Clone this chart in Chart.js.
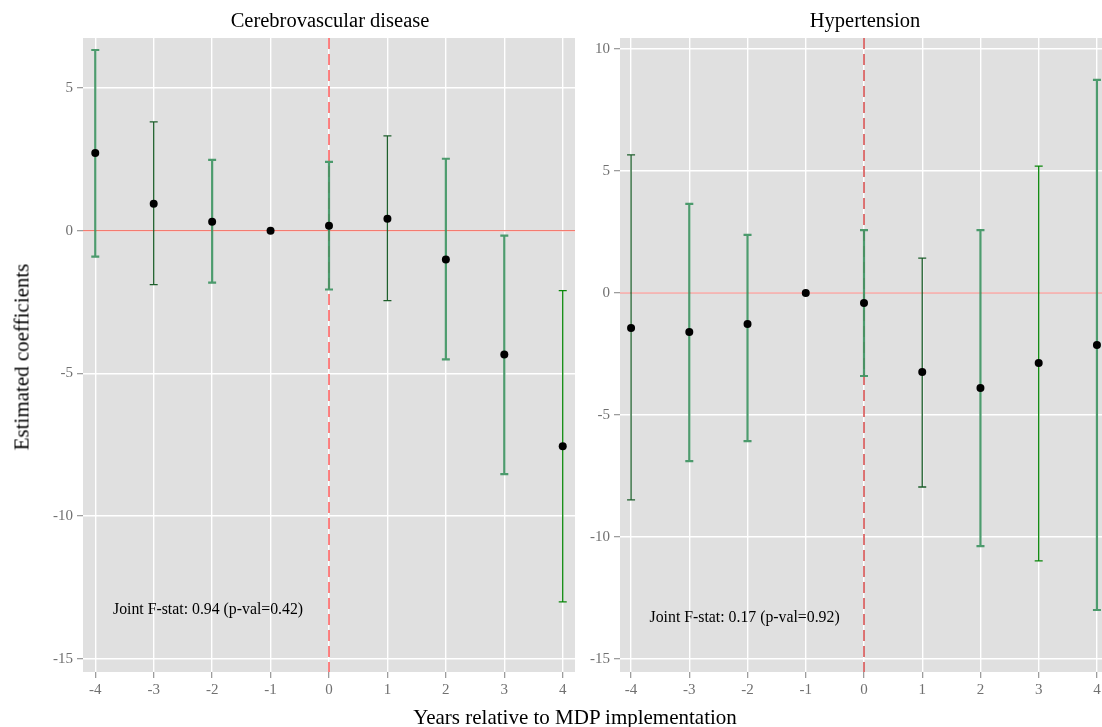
<!DOCTYPE html>
<html>
<head>
<meta charset="utf-8">
<script src="https://cdn.jsdelivr.net/npm/chart.js@4.4.0/dist/chart.umd.min.js"></script>
<style>
    body { margin: 0; width: 1102px; height: 727px; overflow: hidden; background: #fff; position: relative; font-family: "Liberation Serif", serif; }
    canvas { position: absolute; top: 0; }
    .lbl { position: absolute; white-space: nowrap; color: #000; line-height: 1; }
</style>
</head>
<body>
<canvas id="cvdChart" width="580" height="727" style="left:0"></canvas>
<canvas id="htnChart" width="532" height="727" style="left:580px"></canvas>

<div class="lbl" style="left:330px; top:10px; font-size:20.5px; transform:translateX(-50%)">Cerebrovascular disease</div>
<div class="lbl" style="left:865px; top:10px; font-size:20.5px; transform:translateX(-50%)">Hypertension</div>
<div class="lbl" style="left:22px; top:357px; font-size:21px; transform:translate(-50%,-50%) rotate(-90deg)">Estimated coefficients</div>
<div class="lbl" style="left:575px; top:707px; font-size:21px; transform:translateX(-50%)">Years relative to MDP implementation</div>

<script>
// years relative to implementation
const years = [-4, -3, -2, -1, 0, 1, 2, 3, 4];
const xTickLabels = ['-4', '-3', '-2', '-1', '0', '1', '2', '3', '4'];

// Cerebrovascular disease
const cvdCoef = [2.72, 0.94, 0.31, 0, 0.17, 0.42, -1.01, -4.34, -7.55];
const cvdLow  = [-0.91, -1.89, -1.82, 0, -2.06, -2.45, -4.51, -8.53, -13.0];
const cvdHigh = [6.33, 3.81, 2.48, 0, 2.41, 3.32, 2.52, -0.17, -2.10];
const cvdYTicks = [-15, -10, -5, 0, 5];

// Hypertension
const htnCoef = [-1.43, -1.60, -1.27, 0, -0.41, -3.24, -3.89, -2.87, -2.13];
const htnLow  = [-8.48, -6.89, -6.07, 0, -3.40, -7.95, -10.37, -10.98, -12.99];
const htnHigh = [5.66, 3.65, 2.38, 0, 2.58, 1.43, 2.58, 5.20, 8.73];
const htnYTicks = [-15, -10, -5, 0, 5, 10];

// joint test annotations
const noteText = ['Joint F-stat: 0.94 (p-val=0.42)', 'Joint F-stat: 0.17 (p-val=0.92)'];
const noteX = [-2.07, -2.05];
const noteY = [-13.27, -13.32];

// bar looks
const BAR = {
    light:  { color: 'rgba(62,148,98,0.92)', width: 2.2 },
    dark:   { color: '#1e5f2c', width: 1.3 },
    bright: { color: '#0a870a', width: 1.3 }
};
const cvdBarStyle = ['light', 'dark', 'light', null, 'light', 'dark', 'light', 'light', 'bright'];
const htnBarStyle = ['dark', 'light', 'light', null, 'light', 'dark', 'light', 'bright', 'light'];

const SERIF = 'Liberation Serif';

const panelPlugin = {
    id: 'panel',
    beforeDraw(chart) {
        const { ctx, chartArea: a } = chart;
        ctx.save();
        ctx.fillStyle = '#e0e0e0';
        ctx.fillRect(a.left, a.top, a.right - a.left, a.bottom - a.top);
        ctx.restore();
    },
    beforeDatasetsDraw(chart) {
        const { ctx, chartArea: a, scales: { x, y } } = chart;
        const o = chart.options.plugins.panel;
        ctx.save();
        ctx.beginPath();
        ctx.rect(a.left, a.top, a.right - a.left, a.bottom - a.top);
        ctx.clip();

        // zero line
        ctx.strokeStyle = o.hColor;
        ctx.lineWidth = o.hWidth;
        ctx.beginPath();
        ctx.moveTo(a.left, y.getPixelForValue(0));
        ctx.lineTo(a.right, y.getPixelForValue(0));
        ctx.stroke();

        // implementation year
        ctx.strokeStyle = o.vColor;
        ctx.lineWidth = 1.4;
        ctx.setLineDash([11, 5]);
        ctx.beginPath();
        ctx.moveTo(x.getPixelForValue(0), a.top);
        ctx.lineTo(x.getPixelForValue(0), a.bottom);
        ctx.stroke();
        ctx.setLineDash([]);

        // error bars
        years.forEach((yr, i) => {
            const st = BAR[o.styles[i]];
            if (!st) return;
            const px = x.getPixelForValue(yr);
            const lo = y.getPixelForValue(o.low[i]);
            const hi = y.getPixelForValue(o.high[i]);
            ctx.strokeStyle = st.color;
            ctx.lineWidth = st.width;
            ctx.beginPath();
            ctx.moveTo(px, lo); ctx.lineTo(px, hi);
            ctx.moveTo(px - 4, lo); ctx.lineTo(px + 4, lo);
            ctx.moveTo(px - 4, hi); ctx.lineTo(px + 4, hi);
            ctx.stroke();
        });

        // note
        ctx.fillStyle = '#000';
        ctx.font = `15.8px "${SERIF}"`;
        ctx.textAlign = 'center';
        ctx.textBaseline = 'middle';
        ctx.fillText(o.note, x.getPixelForValue(o.noteX), y.getPixelForValue(o.noteY));
        ctx.restore();
    }
};

function makePanel(id, coef, low, high, styles, yTicks, yMin, yMax, xMin, xMax, yWidth, padRight, idx, vColor, hColor, hWidth) {
    const tickFont = { family: SERIF, size: 15 };
    return new Chart(document.getElementById(id), {
        type: 'scatter',
        data: {
            datasets: [{
                data: years.map((yr, i) => ({ x: yr, y: coef[i] })),
                pointRadius: 4,
                pointBackgroundColor: '#000',
                pointBorderColor: '#000',
                pointBorderWidth: 0
            }]
        },
        options: {
            responsive: false,
            animation: false,
            layout: { padding: { left: 0, top: 38, right: padRight, bottom: 0 } },
            plugins: {
                legend: { display: false },
                tooltip: { enabled: false },
                panel: {
                    low, high, styles, vColor, hColor, hWidth,
                    note: noteText[idx], noteX: noteX[idx], noteY: noteY[idx]
                }
            },
            scales: {
                x: {
                    type: 'linear', min: xMin, max: xMax,
                    afterBuildTicks: s => { s.ticks = years.map(v => ({ value: v })); },
                    afterFit: s => { s.height = 55; },
                    grid: { color: '#ffffff', lineWidth: 1.4, tickLength: 6, tickColor: '#8c8c8c', tickWidth: 1.1 },
                    border: { display: false },
                    ticks: {
                        color: '#707070', font: tickFont, padding: 3, maxRotation: 0, autoSkip: false,
                        callback: v => xTickLabels[years.indexOf(v)]
                    }
                },
                y: {
                    min: yMin, max: yMax,
                    afterBuildTicks: s => { s.ticks = yTicks.map(v => ({ value: v })); },
                    afterFit: s => { s.width = yWidth; },
                    grid: { color: '#ffffff', lineWidth: 1.4, tickLength: 6, tickColor: '#8c8c8c', tickWidth: 1.1 },
                    border: { display: false },
                    ticks: { color: '#707070', font: tickFont, padding: 4, autoSkip: false, callback: v => String(v) }
                }
            }
        },
        plugins: [panelPlugin]
    });
}

makePanel('cvdChart', cvdCoef, cvdLow, cvdHigh, cvdBarStyle, cvdYTicks, -15.46, 6.75, -4.21, 4.21, 83, 5, 0, '#ff4f4f', '#f47b70', 1.2);
makePanel('htnChart', htnCoef, htnLow, htnHigh, htnBarStyle, htnYTicks, -15.53, 10.45, -4.19, 4.19, 40, 2, 1, '#d23c3c', '#f2a3a0', 1.5);
</script>
</body>
</html>
